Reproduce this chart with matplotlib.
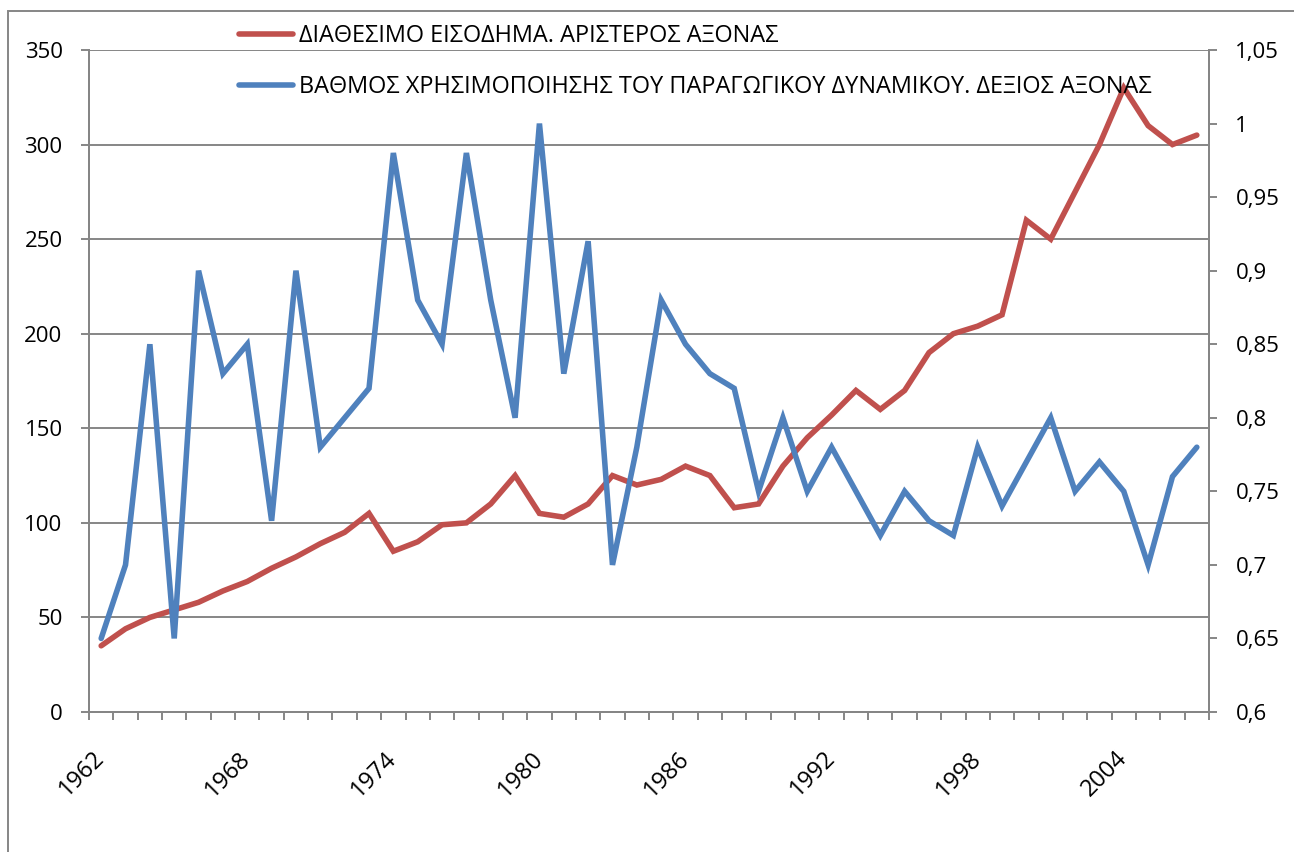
import numpy as np
import matplotlib
matplotlib.use("Agg")
import matplotlib.pyplot as plt
from matplotlib.patches import Rectangle

plt.rcParams['font.family'] = ['Open Sans', 'DejaVu Sans']

# data
years = list(range(1962, 2008))
income = [35, 44, 50, 54, 58, 64, 69, 76, 82, 89,
          95, 105, 85, 90, 99, 100, 110, 125, 105, 103,
          110, 125, 120, 123, 130, 125, 108, 110, 130, 145,
          157, 170, 160, 170, 190, 200, 204, 210, 260, 250,
          275, 300, 330, 310, 300, 305]
usage = [0.65, 0.70, 0.85, 0.65, 0.90, 0.83, 0.85, 0.73, 0.90, 0.78,
         0.80, 0.82, 0.98, 0.88, 0.85, 0.98, 0.88, 0.80, 1.00, 0.83,
         0.92, 0.70, 0.78, 0.88, 0.85, 0.83, 0.82, 0.75, 0.80, 0.75,
         0.78, 0.75, 0.72, 0.75, 0.73, 0.72, 0.78, 0.74, 0.77, 0.80,
         0.75, 0.77, 0.75, 0.70, 0.76, 0.78]
left_ticks = [0, 50, 100, 150, 200, 250, 300, 350]
right_ticks = [0.6, 0.65, 0.7, 0.75, 0.8, 0.85, 0.9, 0.95, 1.0, 1.05]
right_labels = ["0,6", "0,65", "0,7", "0,75", "0,8", "0,85", "0,9", "0,95", "1", "1,05"]
label_years = [1962, 1968, 1974, 1980, 1986, 1992, 1998, 2004]
name_income = "ΔΙΑΘΕΣΙΜΟ ΕΙΣΟΔΗΜΑ. ΑΡΙΣΤΕΡΟΣ ΑΞΟΝΑΣ"
name_usage = "ΒΑΘΜΟΣ ΧΡΗΣΙΜΟΠΟΙΗΣΗΣ ΤΟΥ ΠΑΡΑΓΩΓΙΚΟΥ ΔΥΝΑΜΙΚΟΥ. ΔΕΞΙΟΣ ΑΞΟΝΑΣ"

RED, BLUE, GREY = "#C0504D", "#4F81BD", "#868686"
W, H = 1294, 852

fig = plt.figure(figsize=(W / 100, H / 100), dpi=100)
# chart-area frame (right/bottom edges fall outside the picture)
fig.patches.append(Rectangle((8 / W, -0.1), 1.2, 1 - 11 / H + 0.1, transform=fig.transFigure,
                             fill=False, edgecolor=GREY, lw=1.4))

ax = fig.add_axes([89 / W, 1 - 712 / H, (1209 - 89) / W, (712 - 50) / H])
ax2 = ax.twinx()

ax.plot(years, income, color=RED, lw=4, solid_capstyle="round", solid_joinstyle="miter", label=name_income)
ax2.plot(years, usage, color=BLUE, lw=4, solid_capstyle="round", solid_joinstyle="miter", label=name_usage)

ax.set_xlim(1961.5, 2007.5)
ax.set_ylim(0, 350)
ax2.set_ylim(0.6, 1.05)

ax.set_yticks(left_ticks)
ax.yaxis.grid(True, color=GREY, lw=1.4)
ax.set_axisbelow(True)
ax2.set_yticks(right_ticks)
ax2.set_yticklabels(right_labels)

ax.set_xticks(label_years)
ax.set_xticklabels([str(y) for y in label_years], rotation=45, ha="right", va="center",
                   rotation_mode="anchor")
ax.set_xticks(np.arange(1961.5, 2008, 1.0), minor=True)
ax.tick_params(axis="x", which="major", length=0, pad=31, labelsize=17)
ax.tick_params(axis="x", which="minor", length=6, width=1.4, color=GREY, direction="out")
ax.tick_params(axis="y", length=6, width=1.4, color=GREY, pad=13, labelsize=16)
ax2.tick_params(axis="y", length=6, width=1.4, color=GREY, pad=13, labelsize=16)

for a in (ax, ax2):
    for s in a.spines.values():
        s.set_color(GREY)
        s.set_linewidth(1.4)
    a.spines["top"].set_visible(False)

h1, l1 = ax.get_legend_handles_labels()
h2, l2 = ax2.get_legend_handles_labels()
fig.legend(h1 + h2, l1 + l2, loc="upper left", bbox_to_anchor=(230 / W, 1 - 15 / H),
           frameon=False, fontsize=16.9, handlelength=2.3, handletextpad=0.25, labelspacing=1.15,
           borderaxespad=0)

fig.savefig("out.png", dpi=100)
